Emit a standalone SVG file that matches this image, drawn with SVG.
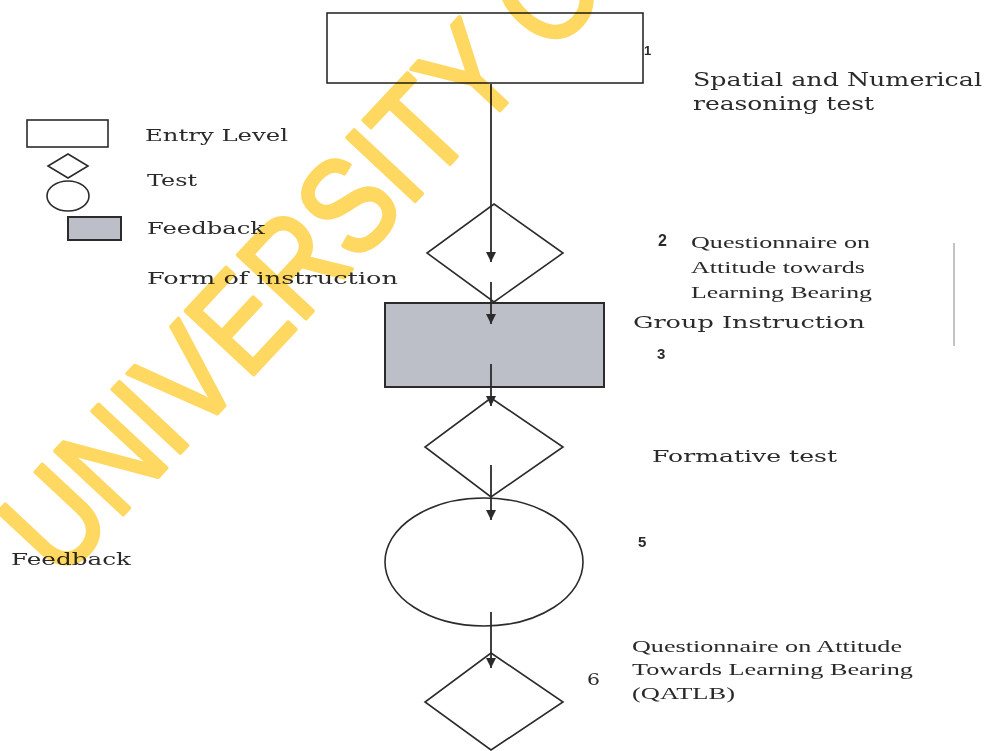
<svg xmlns="http://www.w3.org/2000/svg" width="984" height="751" viewBox="0 0 984 751">
<style>
.sh{fill:none;stroke:#2b2b2b;stroke-width:1.6}
.fb{fill:#bcbfc8;stroke:#2b2b2b;stroke-width:2}
.con{stroke:#2b2b2b;stroke-width:1.8;fill:none}
.t{font-family:"DejaVu Serif","Liberation Serif",serif;fill:#2a2a2a}
.q{font-family:"Liberation Serif","DejaVu Serif",serif;fill:#2a2a2a}
.n{font-family:"Liberation Sans",Arial,sans-serif;font-weight:bold;fill:#2a2a2a}
</style>
<defs>
<marker id="ah" markerUnits="userSpaceOnUse" markerWidth="10" markerHeight="10" refX="10" refY="5" orient="auto">
<path d="M0,0 L10,5 L0,10 z" fill="#2b2b2b"/>
</marker>
</defs>
<rect width="984" height="751" fill="#ffffff"/>

<g id="legend">
<rect class="sh" x="27" y="120" width="81" height="27"/>
<polygon class="sh" points="68,154 88,166 68,178 48,166"/>
<ellipse class="sh" cx="68" cy="196" rx="21" ry="15"/>
<rect class="fb" x="68" y="217" width="53" height="23"/>
<text class="t" x="145" y="141" font-size="17" textLength="143" lengthAdjust="spacingAndGlyphs">Entry Level</text>
<text class="t" x="147" y="186" font-size="17" textLength="50" lengthAdjust="spacingAndGlyphs">Test</text>
<text class="t" x="147" y="234" font-size="17" textLength="118" lengthAdjust="spacingAndGlyphs">Feedback</text>
<text class="t" x="147" y="284" font-size="17" textLength="251" lengthAdjust="spacingAndGlyphs">Form of instruction</text>
</g>

<g id="node1">
<rect class="sh" x="327" y="13" width="316" height="70"/>
<text class="n" x="644" y="55" font-size="13">1</text>
<text class="t" x="693" y="86" font-size="19" textLength="289" lengthAdjust="spacingAndGlyphs">Spatial and Numerical</text>
<text class="t" x="693" y="110" font-size="19" textLength="181" lengthAdjust="spacingAndGlyphs">reasoning test</text>
</g>

<g id="node2">
<polygon class="sh" points="494,204 563,253 494,302 427,253"/>
<text class="n" x="658" y="246" font-size="16">2</text>
<text class="q" x="691" y="248" font-size="17" textLength="179" lengthAdjust="spacingAndGlyphs">Questionnaire on</text>
<text class="q" x="691" y="273" font-size="17" textLength="174" lengthAdjust="spacingAndGlyphs">Attitude towards</text>
<text class="q" x="691" y="298" font-size="17" textLength="181" lengthAdjust="spacingAndGlyphs">Learning Bearing</text>
<line x1="954" y1="243" x2="954" y2="346" stroke="#888" stroke-width="1"/>
</g>

<g id="node3">
<rect class="fb" x="385" y="303" width="219" height="84"/>
<text class="t" x="633" y="328" font-size="17" textLength="232" lengthAdjust="spacingAndGlyphs">Group Instruction</text>
<text class="n" x="657" y="359" font-size="15">3</text>
</g>

<g id="node4">
<polygon class="sh" points="491,398 563,447 491,497 425,447"/>
<text class="t" x="652" y="462" font-size="17" textLength="185" lengthAdjust="spacingAndGlyphs">Formative test</text>
</g>

<g id="node5">
<ellipse class="sh" cx="484" cy="562" rx="99" ry="64"/>
<text class="n" x="638" y="547" font-size="15">5</text>
<text class="t" x="11" y="565" font-size="17" textLength="120" lengthAdjust="spacingAndGlyphs">Feedback</text>
</g>

<g id="node6">
<polygon class="sh" points="491,653 563,702 491,750 425,702"/>
<text class="t" x="587" y="685" font-size="17" font-family="DejaVu Sans" textLength="13" lengthAdjust="spacingAndGlyphs">6</text>
<text class="q" x="632" y="652" font-size="17" textLength="270" lengthAdjust="spacingAndGlyphs">Questionnaire on Attitude</text>
<text class="q" x="632" y="675" font-size="17" textLength="281" lengthAdjust="spacingAndGlyphs">Towards Learning Bearing</text>
<text class="q" x="632" y="699" font-size="17" textLength="103" lengthAdjust="spacingAndGlyphs">(QATLB)</text>
</g>

<g id="connectors">
<line class="con" x1="491" y1="84" x2="491" y2="262" marker-end="url(#ah)"/>
<line class="con" x1="491" y1="282" x2="491" y2="324" marker-end="url(#ah)"/>
<line class="con" x1="491" y1="364" x2="491" y2="406" marker-end="url(#ah)"/>
<line class="con" x1="491" y1="465" x2="491" y2="520" marker-end="url(#ah)"/>
<line class="con" x1="491" y1="612" x2="491" y2="668" marker-end="url(#ah)"/>
</g>

<g id="watermark" style="mix-blend-mode:multiply">
<text transform="translate(60,582) rotate(-47) scale(0.85,1)" font-family="Liberation Sans,Arial,sans-serif" font-size="135" fill="#ffd862" stroke="#ffd862" stroke-width="4" stroke-linejoin="round">UNIVERSITY OF</text>
</g>
</svg>
